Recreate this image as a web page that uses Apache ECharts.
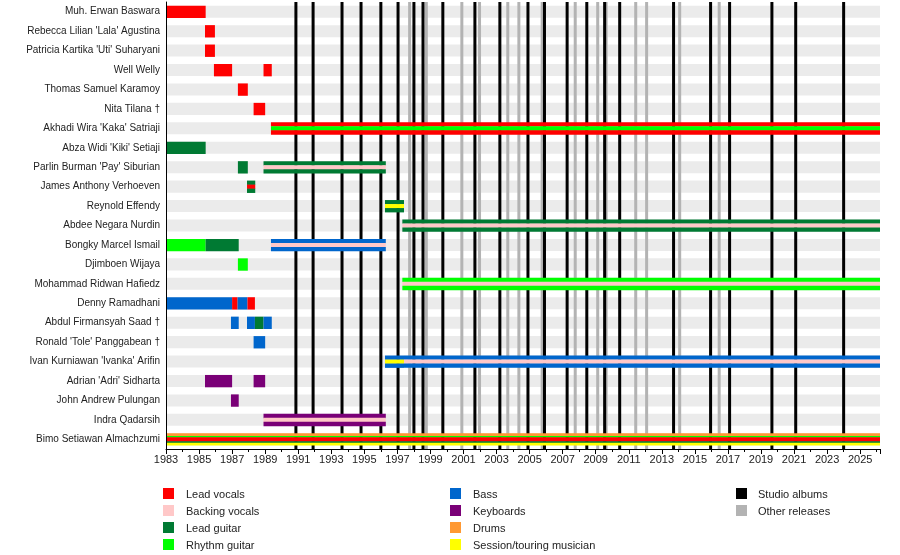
<!DOCTYPE html>
<html>
<head>
<meta charset="utf-8">
<script src="https://cdn.jsdelivr.net/npm/echarts@6/dist/echarts.min.js"></script>
<style>html,body{margin:0;padding:0;background:#fff}#chart{width:900px;height:555px}</style>
</head>
<body>
<div id="chart"></div>
<script>
// anggota band, dari atas ke bawah
var members = ["Muh. Erwan Baswara", "Rebecca Lilian 'Lala' Agustina", "Patricia Kartika 'Uti' Suharyani",
  "Well Welly", "Thomas Samuel Karamoy", "Nita Tilana †", "Akhadi Wira 'Kaka' Satriaji",
  "Abza Widi 'Kiki' Setiaji", "Parlin Burman 'Pay' Siburian", "James Anthony Verhoeven", "Reynold Effendy",
  "Abdee Negara Nurdin", "Bongky Marcel Ismail", "Djimboen Wijaya", "Mohammad Ridwan Hafiedz",
  "Denny Ramadhani", "Abdul Firmansyah Saad †", "Ronald 'Tole' Panggabean †", "Ivan Kurniawan 'Ivanka' Arifin",
  "Adrian 'Adri' Sidharta", "John Andrew Pulungan", "Indra Qadarsih", "Bimo Setiawan Almachzumi"];

var roles = ["Lead vocals", "Backing vocals", "Lead guitar", "Rhythm guitar", "Bass", "Keyboards", "Drums", "Session/touring musician"];
var roleColors = ["#ff0000", "#ffc8c8", "#007a33", "#00ff00", "#0066cc", "#7a0077", "#ff9933", "#ffff00"];

var END = 2026.2;
// [baris, mulai, selesai, peran berlapis (indeks roles)]
var periods = [
  [0, 1983, 1985.4, [0]],
  [1, 1985.36, 1985.96, [0]],
  [2, 1985.36, 1985.96, [0]],
  [3, 1985.9, 1987.0, [0]],
  [3, 1988.9, 1989.4, [0]],
  [4, 1987.35, 1987.95, [0]],
  [5, 1988.3, 1989.0, [0]],
  [6, 1989.35, END, [0, 3, 0]],
  [7, 1983, 1985.4, [2]],
  [8, 1987.35, 1987.95, [2]],
  [8, 1988.9, 1996.3, [2, 1, 2]],
  [9, 1987.9, 1988.4, [2, 0, 2]],
  [10, 1996.25, 1997.4, [2, 7, 2]],
  [11, 1997.3, END, [2, 1, 2]],
  [12, 1983, 1985.4, [3]],
  [12, 1985.4, 1987.4, [2]],
  [12, 1989.35, 1996.3, [4, 1, 4]],
  [13, 1987.35, 1987.95, [3]],
  [14, 1997.3, END, [3, 1, 3]],
  [15, 1983, 1987.0, [4]],
  [15, 1987.0, 1987.33, [0]],
  [15, 1987.33, 1987.93, [4]],
  [15, 1987.93, 1988.38, [0]],
  [16, 1986.93, 1987.4, [4]],
  [16, 1987.9, 1988.38, [4]],
  [16, 1988.38, 1988.9, [2]],
  [16, 1988.9, 1989.4, [4]],
  [17, 1988.3, 1989.0, [4]],
  [18, 1996.25, 1997.4, [4, 7, 4]],
  [18, 1997.4, END, [4, 1, 4]],
  [19, 1985.36, 1987.0, [5]],
  [19, 1988.3, 1989.0, [5]],
  [20, 1986.93, 1987.4, [5]],
  [21, 1988.9, 1996.3, [5, 1, 5]],
  [22, 1983, END, [6, 3, 0, 0, 2, 7]]
];

var studioAlbums = [1990.86, 1991.9, 1993.65, 1994.8, 1996.0, 1997.04, 1998.0, 1998.55, 1999.75, 2001.69,
  2003.2, 2004.9, 2005.9, 2007.27, 2008.46, 2009.54, 2010.45, 2013.71, 2015.95, 2017.1, 2019.66, 2021.1, 2024.0];
var otherReleases = [1997.74, 1998.75, 2000.9, 2001.97, 2003.68, 2004.35, 2005.76, 2007.76, 2009.12,
  2009.63, 2011.42, 2012.08, 2014.08, 2016.47];

var myChart = echarts.init(document.getElementById('chart'), null, {renderer: 'canvas'});
var font = 'Liberation Sans, Arial, sans-serif';

function lineSeries(years, color, w, z) {
  return {
    type: 'custom', z: z, silent: true,
    data: years.map(function (y) { return [y]; }),
    renderItem: function (params, api) {
      var x = api.coord([api.value(0), 0])[0];
      var cs = params.coordSys;
      return {type: 'rect', shape: {x: x - w / 2, y: cs.y, width: w, height: cs.height}, style: {fill: color}};
    }
  };
}

// legend dibangun dari array peran
var legendItems = [];
var legendCols = [[0, 1, 2, 3], [4, 5, 6, 7]];
legendCols.forEach(function (col, ci) {
  col.forEach(function (ri, k) {
    legendItems.push({type: 'rect', left: 163 + ci * 287, top: 488 + k * 17, shape: {width: 11, height: 11}, style: {fill: roleColors[ri]}});
    legendItems.push({type: 'text', left: 186 + ci * 287, top: 489 + k * 17, style: {text: roles[ri], font: '11px ' + font, fill: '#222'}});
  });
});
[["Studio albums", "#000"], ["Other releases", "#b3b3b3"]].forEach(function (it, k) {
  legendItems.push({type: 'rect', left: 736, top: 488 + k * 17, shape: {width: 11, height: 11}, style: {fill: it[1]}});
  legendItems.push({type: 'text', left: 758, top: 489 + k * 17, style: {text: it[0], font: '11px ' + font, fill: '#222'}});
});

var option = {
  animation: false,
  grid: {left: 166, right: 20, top: 2, bottom: 106},
  xAxis: {
    type: 'value', min: 1983, max: END, interval: 2, z: 10,
    axisLine: {show: true, lineStyle: {color: '#000'}},
    axisTick: {show: true, length: 5, lineStyle: {color: '#000'}},
    minorTick: {show: true, splitNumber: 2, length: 3, lineStyle: {color: '#000'}},
    splitLine: {show: false},
    axisLabel: {showMaxLabel: false, color: '#222', fontSize: 11, fontFamily: font, margin: 5,
      formatter: function (v) { return String(v); }}
  },
  yAxis: {
    type: 'category', data: members, inverse: true, z: 10,
    axisLine: {show: true, lineStyle: {color: '#000'}},
    axisTick: {show: false},
    axisLabel: {color: '#222', fontSize: 10, fontFamily: font, margin: 6}
  },
  graphic: legendItems,
  series: [
    {
      // latar abu-abu tiap baris
      type: 'custom', z: 1, silent: true,
      data: members.map(function (m, i) { return [i]; }),
      renderItem: function (params, api) {
        var cs = params.coordSys;
        var y = api.coord([1983, api.value(0)])[1];
        var h = api.size([0, 1])[1] * 0.62;
        return {type: 'rect', shape: {x: cs.x + 1, y: y - h / 2, width: cs.width - 1, height: h}, style: {fill: '#ebebeb'}};
      }
    },
    lineSeries(otherReleases, '#b3b3b3', 3, 2),
    lineSeries(studioAlbums, '#000', 3, 3),
    {
      type: 'custom', z: 5, silent: true,
      data: periods.map(function (p) { return [p[0], p[1], p[2], p[3].join(',')]; }),
      renderItem: function (params, api) {
        var p = periods[params.dataIndex];
        var a = api.coord([p[1], p[0]]);
        var b = api.coord([p[2], p[0]]);
        var h = api.size([0, 1])[1] * 0.62;
        var top = a[1] - h / 2;
        var layers = p[3];
        var children = [];
        if (layers.length === 6) {
          // Bimo: garis tipis berlapis
          var fr = [0.22, 0.12, 0.33, 0, 0.12, 0.21];
          var yy = top;
          layers.forEach(function (r, k) {
            if (!fr[k]) return;
            children.push({type: 'rect', shape: {x: a[0], y: yy, width: b[0] - a[0], height: h * fr[k] + 0.3}, style: {fill: roleColors[r]}});
            yy += h * fr[k];
          });
        } else {
          var n = layers.length;
          layers.forEach(function (r, k) {
            children.push({type: 'rect', shape: {x: a[0], y: top + h * k / n, width: b[0] - a[0], height: h / n + 0.3}, style: {fill: roleColors[r]}});
          });
        }
        return {type: 'group', children: children};
      }
    }
  ]
};

myChart.setOption(option);
window.onresize = myChart.resize;
</script>
</body>
</html>
